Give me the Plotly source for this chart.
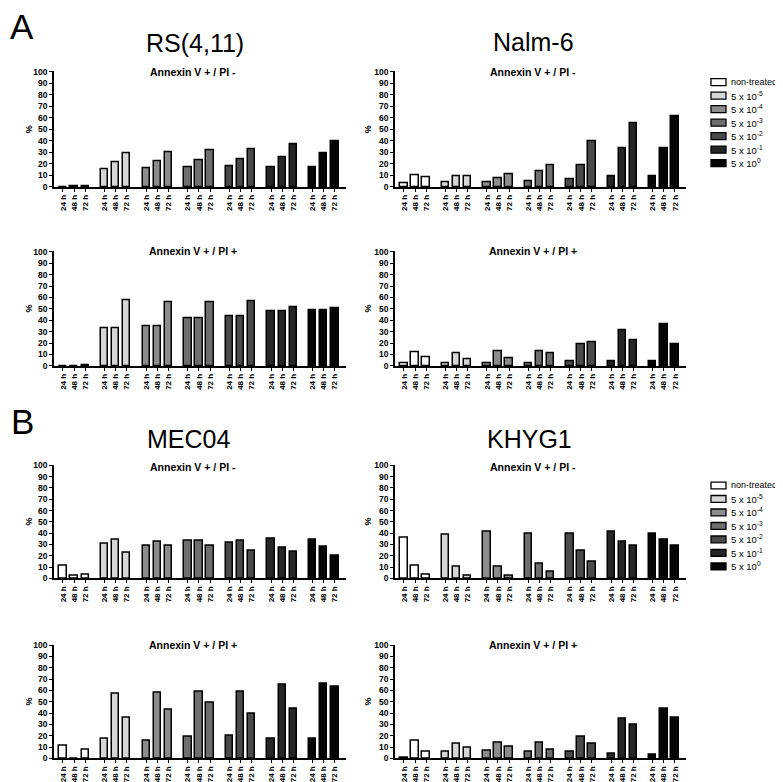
import plotly.graph_objects as go

W, H = 783, 782

times = ["24 h", "48 h", "72 h"]
groups = ["non-treated", "5 x 10<sup>-5</sup>", "5 x 10<sup>-4</sup>", "5 x 10<sup>-3</sup>",
          "5 x 10<sup>-2</sup>", "5 x 10<sup>-1</sup>", "5 x 10<sup>0</sup>"]
colors = ["#ffffff", "#d6d6d6", "#8c8c8c", "#6e6e6e", "#4a4a4a", "#262626", "#050505"]

# values per group: [24h, 48h, 72h]
rs411_pi_neg = [[0, 0.5, 0.5], [15, 21.5, 29.5], [16.5, 22, 30.5], [17, 23, 31.5],
                [18, 24, 32.5], [17.5, 26, 37], [17.5, 29, 40]]
rs411_pi_pos = [[0, 0, 0.3], [33.4, 33.4, 57.2], [34.9, 34.9, 55.7], [41.4, 41.4, 55.7],
                [43.4, 43.4, 56.3], [48, 48, 51.1], [49, 49, 50.9]]
nalm6_pi_neg = [[3.4, 10, 8.6], [4.3, 9.4, 9.4], [4.3, 7.1, 11.4], [4.9, 13.4, 19.1],
                [6.3, 19, 39.4], [9.1, 33.7, 55.4], [9.1, 33.7, 61.4]]
nalm6_pi_pos = [[2.3, 12, 7.7], [2.3, 11.1, 5.7], [2.6, 13.1, 6.3], [2.6, 13.1, 10.9],
                [4.3, 19.1, 20.9], [3.7, 30.9, 22.3], [4.3, 36.6, 18.6]]
mec04_pi_neg = [[11.6, 2, 3.2], [30.4, 33.9, 22.6], [28.7, 32.8, 28.7], [33.3, 33, 29],
                [31.3, 33, 24.3], [35.4, 26.7, 23.8], [34.5, 27.8, 20.3]]
mec04_pi_pos = [[11.6, 0, 8.1], [17.7, 57.1, 36.2], [15.7, 58, 43.2], [19.4, 58.6, 49.6],
                [20, 59.1, 39.7], [17.1, 65.2, 43.8], [17.1, 65.8, 63.5]]
khyg1_pi_neg = [[36.2, 11.6, 3.5], [38.8, 9.9, 2.3], [40.9, 10.7, 2.3], [39.7, 12.8, 5.8],
                [39.4, 24.6, 14.8], [41.4, 32.8, 29.3], [39.7, 33.9, 29]]
khyg1_pi_pos = [[0.6, 15.9, 5.8], [5.5, 12.8, 9.3], [6.7, 13.6, 9.9], [5.5, 13.9, 7.5],
                [5.8, 19.4, 12.8], [3.8, 35.4, 29.6], [3.5, 43.5, 35.9]]

yticks = list(range(0, 101, 10))

panels = [
    # data, column, row
    (rs411_pi_neg, 0, 0), (nalm6_pi_neg, 1, 0),
    (rs411_pi_pos, 0, 1), (nalm6_pi_pos, 1, 1),
    (mec04_pi_neg, 0, 2), (khyg1_pi_neg, 1, 2),
    (mec04_pi_pos, 0, 3), (khyg1_pi_pos, 1, 3),
]
col_px = [(46, 338), (387, 678)]
row_px = [(177, 60), (358, 242), (573, 458), (755, 640)]

GROUP_STEP = 3.75
fig = go.Figure()
layout = {}
tickvals = [g * GROUP_STEP + t for g in range(7) for t in range(3)]
ticktext = times * 7

for i, (data, c, r) in enumerate(panels):
    n = i + 1
    xa = "x" if n == 1 else f"x{n}"
    ya = "y" if n == 1 else f"y{n}"
    for g, vals in enumerate(data):
        fig.add_trace(go.Bar(
            x=[g * GROUP_STEP + t for t in range(3)], y=vals,
            width=0.66, marker=dict(color=colors[g], line=dict(color="black", width=1.5)),
            xaxis=xa, yaxis=ya, showlegend=False, name=groups[g]))
    x0, x1 = col_px[c]
    zb, zt = row_px[r]
    layout["xaxis" if n == 1 else f"xaxis{n}"] = dict(
        domain=[x0 / W, x1 / W], anchor=ya, range=[-0.81, 25.5],
        showline=True, linecolor="black", linewidth=1.5, showgrid=False, zeroline=False,
        tickmode="array", tickvals=tickvals, ticktext=ticktext, tickangle=-90,
        ticks="outside", ticklen=3, tickwidth=1.2, tickcolor="black",
        tickfont=dict(family="Arial", size=8, color="black", weight="bold"))
    layout["yaxis" if n == 1 else f"yaxis{n}"] = dict(
        domain=[1 - zb / H, 1 - zt / H], anchor=xa, range=[0, 100.5],
        showline=True, linecolor="black", linewidth=1.5, showgrid=False, zeroline=False,
        tickmode="array", tickvals=yticks, ticks="outside", ticklen=3, tickwidth=1.2,
        tickcolor="black", tickfont=dict(family="Arial", size=8.5, color="black", weight="bold"))

annotations = []
shapes = []

def ann(text, x, y, size, bold=False, angle=0, xanchor="center"):
    annotations.append(dict(text=text, x=x / W, y=1 - y / H, xref="paper", yref="paper",
                            showarrow=False, textangle=angle, xanchor=xanchor, yanchor="middle",
                            borderpad=0,
                            font=dict(family="Arial", size=size, color="black",
                                      weight="bold" if bold else "normal")))

ann("A", 14, 15, 35)
ann("B", 14, 414, 35)
ann("RS(4,11)", 187, 31, 25)
ann("Nalm-6", 525, 30, 25)
ann("MEC04", 180, 432, 25)
ann("KHYG1", 521, 432, 25)

sub_y = [61, 242, 460, 640]
titles = ["Annexin V + / PI -", "Annexin V + / PI +", "Annexin V + / PI -", "Annexin V + / PI +"]
for r in range(4):
    ann(titles[r], 185, sub_y[r], 10.5, bold=True)
    ann(titles[r], 525, sub_y[r], 10.5, bold=True)
    mid = (row_px[r][0] + row_px[r][1]) / 2
    ann("%", 21, mid, 9, bold=True, angle=-90)
    ann("%", 360, mid, 9, bold=True, angle=-90)

for top in (71, 479):
    for g in range(7):
        yc = top + g * 13.65
        shapes.append(dict(type="rect", xref="paper", yref="paper",
                           x0=703 / W, x1=718 / W, y0=1 - (yc + 3.5) / H, y1=1 - (yc - 3.5) / H,
                           fillcolor=colors[g], line=dict(color="black", width=1.3)))
        ann(groups[g], 722, yc, 9.5 if g else 9, xanchor="left")

fig.update_layout(**layout)
fig.update_layout(width=W, height=H, margin=dict(l=0, r=0, t=0, b=0),
                  plot_bgcolor="white", paper_bgcolor="white", bargap=0,
                  annotations=annotations, shapes=shapes, showlegend=False)
fig.write_html("out.html")
